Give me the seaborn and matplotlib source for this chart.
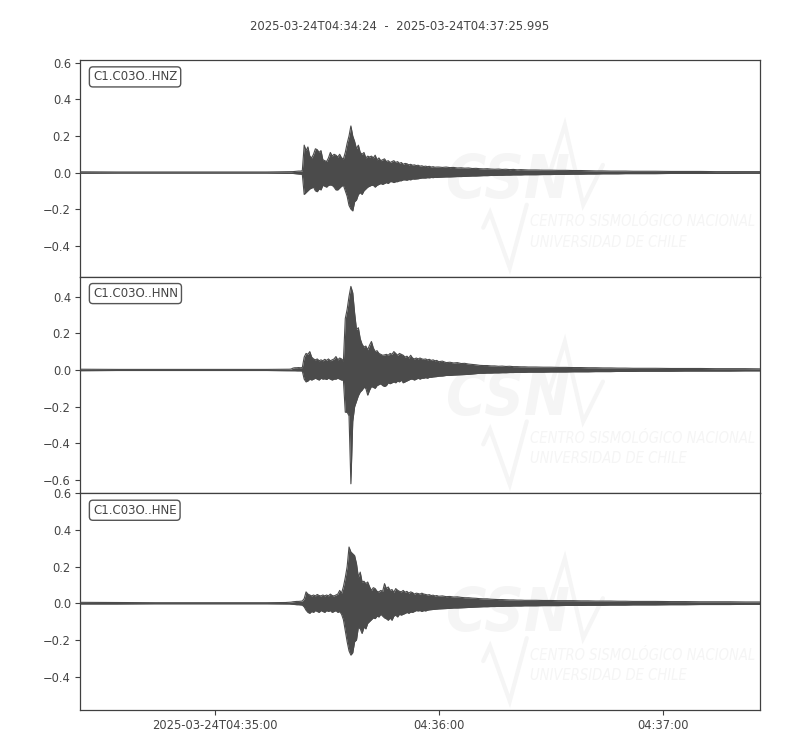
import numpy as np
import pandas as pd
import matplotlib
matplotlib.use("Agg")
import matplotlib.pyplot as plt
import seaborn as sns

# ---------------- data ----------------
title_text = "2025-03-24T04:34:24  -  2025-03-24T04:37:25.995"
channels = ["C1.C03O..HNZ", "C1.C03O..HNN", "C1.C03O..HNE"]
duration_s = 181.995

# sampling grid of the read-off envelope (seconds after 04:34:24)
grid_pre = [0, 10, 20, 30, 40, 50, 55]
grid_fine = list(np.arange(56.0, 96.0, 0.5))
grid_mid = list(np.arange(96, 121, 1))
grid_late = list(np.arange(122, 151, 2))
grid_end = list(np.arange(154, 183, 4))
seconds = np.array(grid_pre + grid_fine + grid_mid + grid_late + grid_end, dtype=float)

hnz_upper = [0.004, 0.003, 0.003, 0.003, 0.003, 0.003, 0.004,
             0.004, 0.004, 0.005, 0.006, 0.007, 0.008, 0.008, 0.010,
             0.15, 0.12, 0.14, 0.09, 0.08, 0.10, 0.13, 0.125, 0.11, 0.12,
             0.07, 0.065, 0.06, 0.08, 0.11, 0.09, 0.10, 0.095, 0.085, 0.10,
             0.08, 0.075, 0.11, 0.16, 0.20, 0.255, 0.20, 0.17, 0.13, 0.15,
             0.11, 0.10, 0.11, 0.08, 0.09, 0.085, 0.09, 0.08, 0.095, 0.07,
             0.08, 0.065, 0.07, 0.075, 0.06, 0.065, 0.055, 0.06, 0.065, 0.055,
             0.06, 0.05, 0.055, 0.045, 0.05, 0.048, 0.042, 0.045, 0.04, 0.042,
             0.038, 0.04, 0.035, 0.037, 0.033, 0.035, 0.032, 0.034, 0.03, 0.032,
             0.029, 0.03,
             0.03, 0.028, 0.03, 0.027, 0.028, 0.025, 0.026, 0.024, 0.025, 0.022,
             0.023, 0.021, 0.02, 0.021, 0.019, 0.018, 0.019, 0.017, 0.018, 0.016,
             0.017, 0.015, 0.016, 0.015, 0.014,
             0.014, 0.013, 0.013, 0.012, 0.012, 0.011, 0.011, 0.010, 0.009, 0.009,
             0.008, 0.008, 0.008, 0.007, 0.007,
             0.007, 0.006, 0.006, 0.006, 0.005, 0.005, 0.005, 0.005]
hnz_lower = [-0.004, -0.003, -0.003, -0.003, -0.003, -0.003, -0.004,
             -0.004, -0.004, -0.005, -0.006, -0.007, -0.008, -0.009, -0.010,
             -0.12, -0.11, -0.10, -0.09, -0.085, -0.08, -0.10, -0.105, -0.09, -0.095,
             -0.07, -0.075, -0.08, -0.07, -0.068, -0.07, -0.08, -0.095, -0.095, -0.085,
             -0.075, -0.07, -0.10, -0.13, -0.18, -0.20, -0.21, -0.16, -0.15, -0.12,
             -0.11, -0.12, -0.10, -0.09, -0.08, -0.075, -0.07, -0.07, -0.08, -0.07,
             -0.065, -0.06, -0.065, -0.06, -0.055, -0.06, -0.05, -0.05, -0.055, -0.05,
             -0.05, -0.045, -0.045, -0.04, -0.04, -0.042, -0.038, -0.04, -0.035, -0.036,
             -0.035, -0.034, -0.032, -0.03, -0.03, -0.03, -0.028, -0.029, -0.027, -0.028,
             -0.026, -0.027,
             -0.026, -0.025, -0.024, -0.024, -0.023, -0.022, -0.022, -0.021, -0.02, -0.019,
             -0.019, -0.018, -0.017, -0.017, -0.016, -0.016, -0.015, -0.015, -0.014, -0.014,
             -0.013, -0.013, -0.013, -0.012, -0.012,
             -0.012, -0.011, -0.011, -0.010, -0.010, -0.009, -0.009, -0.008, -0.008, -0.007,
             -0.007, -0.007, -0.006, -0.006, -0.006,
             -0.006, -0.005, -0.005, -0.005, -0.005, -0.005, -0.004, -0.004]

hnn_upper = [0.004, 0.003, 0.003, 0.003, 0.003, 0.003, 0.004,
             0.004, 0.005, 0.010, 0.012, 0.012, 0.013, 0.012, 0.013,
             0.07, 0.09, 0.085, 0.10, 0.07, 0.06, 0.055, 0.06, 0.05, 0.055,
             0.05, 0.058, 0.052, 0.06, 0.05, 0.055, 0.06, 0.073, 0.055, 0.065,
             0.06, 0.05, 0.28, 0.33, 0.40, 0.455, 0.42, 0.31, 0.22, 0.23,
             0.17, 0.14, 0.125, 0.13, 0.11, 0.135, 0.155, 0.12, 0.10, 0.105,
             0.09, 0.085, 0.08, 0.082, 0.085, 0.08, 0.09, 0.085, 0.10, 0.09,
             0.08, 0.09, 0.085, 0.08, 0.07, 0.075, 0.065, 0.08, 0.065, 0.06,
             0.065, 0.06, 0.065, 0.06, 0.058, 0.06, 0.055, 0.058, 0.052, 0.055,
             0.05, 0.052,
             0.045, 0.048, 0.04, 0.042, 0.038, 0.04, 0.035, 0.036, 0.032, 0.03,
             0.028, 0.025, 0.024, 0.024, 0.022, 0.022, 0.02, 0.021, 0.019, 0.02,
             0.018, 0.018, 0.017, 0.017, 0.016,
             0.016, 0.015, 0.015, 0.014, 0.014, 0.013, 0.013, 0.012, 0.012, 0.011,
             0.011, 0.010, 0.010, 0.009, 0.009,
             0.009, 0.008, 0.008, 0.008, 0.007, 0.007, 0.007, 0.006]
hnn_lower = [-0.004, -0.003, -0.003, -0.003, -0.003, -0.003, -0.004,
             -0.004, -0.004, -0.004, -0.004, -0.005, -0.005, -0.005, -0.006,
             -0.05, -0.065, -0.06, -0.05, -0.055, -0.05, -0.045, -0.05, -0.055, -0.045,
             -0.05, -0.048, -0.052, -0.045, -0.05, -0.055, -0.05, -0.05, -0.045, -0.05,
             -0.055, -0.055, -0.23, -0.23, -0.25, -0.62, -0.28, -0.20, -0.17, -0.14,
             -0.12, -0.11, -0.095, -0.10, -0.137, -0.11, -0.09, -0.095, -0.10, -0.085,
             -0.08, -0.075, -0.085, -0.09, -0.085, -0.07, -0.075, -0.07, -0.065, -0.07,
             -0.06, -0.065, -0.055, -0.07, -0.065, -0.06, -0.055, -0.05, -0.05, -0.055,
             -0.05, -0.045, -0.05, -0.045, -0.045, -0.042, -0.045, -0.04, -0.04, -0.038,
             -0.037, -0.036,
             -0.034, -0.033, -0.03, -0.03, -0.028, -0.027, -0.026, -0.025, -0.024, -0.022,
             -0.02, -0.018, -0.018, -0.017, -0.017, -0.016, -0.016, -0.015, -0.015, -0.014,
             -0.014, -0.013, -0.013, -0.013, -0.012,
             -0.012, -0.012, -0.011, -0.011, -0.011, -0.010, -0.010, -0.010, -0.009, -0.009,
             -0.009, -0.008, -0.008, -0.008, -0.007,
             -0.007, -0.007, -0.006, -0.006, -0.006, -0.006, -0.005, -0.005]

hne_upper = [0.005, 0.004, 0.003, 0.003, 0.003, 0.003, 0.004,
             0.005, 0.006, 0.008, 0.009, 0.010, 0.010, 0.011, 0.012,
             0.025, 0.062, 0.05, 0.045, 0.04, 0.045, 0.04, 0.048, 0.042, 0.04,
             0.045, 0.04, 0.045, 0.04, 0.05, 0.042, 0.04, 0.045, 0.05, 0.07,
             0.055, 0.09, 0.14, 0.20, 0.307, 0.28, 0.27, 0.26, 0.216, 0.143,
             0.17, 0.116, 0.12, 0.107, 0.116, 0.09, 0.07, 0.085, 0.08, 0.065,
             0.062, 0.07, 0.065, 0.107, 0.08, 0.089, 0.07, 0.075, 0.06, 0.08,
             0.071, 0.065, 0.062, 0.07, 0.06, 0.065, 0.055, 0.062, 0.058, 0.05,
             0.055, 0.053, 0.05, 0.055, 0.05, 0.048, 0.045, 0.047, 0.042, 0.044,
             0.04, 0.042,
             0.038, 0.04, 0.036, 0.037, 0.034, 0.035, 0.032, 0.03, 0.03, 0.028,
             0.027, 0.025, 0.024, 0.024, 0.022, 0.021, 0.02, 0.02, 0.019, 0.018,
             0.018, 0.017, 0.017, 0.016, 0.016,
             0.016, 0.015, 0.015, 0.014, 0.014, 0.014, 0.013, 0.013, 0.012, 0.012,
             0.012, 0.011, 0.011, 0.010, 0.010,
             0.010, 0.009, 0.009, 0.008, 0.008, 0.008, 0.007, 0.007]
hne_lower = [-0.004, -0.004, -0.003, -0.003, -0.003, -0.003, -0.004,
             -0.004, -0.005, -0.006, -0.007, -0.008, -0.008, -0.009, -0.010,
             -0.02, -0.038, -0.05, -0.055, -0.045, -0.05, -0.04, -0.045, -0.05, -0.04,
             -0.045, -0.05, -0.04, -0.045, -0.04, -0.05, -0.045, -0.04, -0.05, -0.045,
             -0.06, -0.09, -0.15, -0.21, -0.26, -0.283, -0.27, -0.21, -0.20, -0.13,
             -0.14, -0.165, -0.13, -0.14, -0.11, -0.10, -0.09, -0.08, -0.084, -0.07,
             -0.075, -0.06, -0.07, -0.08, -0.085, -0.093, -0.08, -0.093, -0.07, -0.065,
             -0.075, -0.06, -0.065, -0.06, -0.056, -0.05, -0.055, -0.048, -0.05, -0.045,
             -0.04, -0.042, -0.04, -0.045, -0.04, -0.042, -0.038, -0.036, -0.035, -0.034,
             -0.033, -0.032,
             -0.031, -0.03, -0.029, -0.028, -0.026, -0.026, -0.025, -0.024, -0.023, -0.022,
             -0.021, -0.02, -0.019, -0.019, -0.018, -0.018, -0.017, -0.017, -0.016, -0.016,
             -0.015, -0.015, -0.015, -0.014, -0.014,
             -0.014, -0.013, -0.013, -0.013, -0.012, -0.012, -0.012, -0.011, -0.011, -0.011,
             -0.010, -0.010, -0.010, -0.009, -0.009,
             -0.009, -0.008, -0.008, -0.007, -0.007, -0.007, -0.006, -0.006]

upper_series = [hnz_upper, hnn_upper, hne_upper]
lower_series = [hnz_lower, hnn_lower, hne_lower]

y_limits = [(-0.57, 0.616), (-0.672, 0.508), (-0.583, 0.60)]
y_ticks = [[-0.4, -0.2, 0.0, 0.2, 0.4, 0.6],
           [-0.6, -0.4, -0.2, 0.0, 0.2, 0.4],
           [-0.4, -0.2, 0.0, 0.2, 0.4, 0.6]]
x_tick_seconds = [36, 96, 156]
x_tick_labels = ["2025-03-24T04:35:00", "04:36:00", "04:37:00"]

# watermark logo strokes (axes-fraction decoration, not data)
logo_w_low = ([0.593, 0.603, 0.632, 0.657], [0.226, 0.295, 0.041, 0.332])
logo_w_high = ([0.690, 0.713, 0.740, 0.769], [0.470, 0.700, 0.332, 0.516])

# ---------------- style ----------------
sns.set_style("ticks")
plt.rcParams["font.family"] = ["DejaVu Sans"]
text_color = "#444444"
wave_color = "#4b4b4b"
plt.rcParams.update({
    "axes.edgecolor": "#404040",
    "axes.linewidth": 0.9,
    "xtick.color": "#404040",
    "ytick.color": "#404040",
    "xtick.labelcolor": text_color,
    "ytick.labelcolor": text_color,
    "xtick.labelsize": 8.3,
    "ytick.labelsize": 8.3,
})

fig, axes = plt.subplots(3, 1, figsize=(8, 7.5), dpi=100, sharex=True)
fig.subplots_adjust(left=0.1, right=0.95, top=0.92, bottom=0.0533, hspace=0)

for i, ax in enumerate(axes):
    up = np.array(upper_series[i])
    lo = np.array(lower_series[i])
    df = pd.DataFrame({"t": seconds, "upper": up, "lower": lo})

    # faint watermark
    wm = "#f5f5f5"
    ax.text(0.63, 0.44, "CSN", transform=ax.transAxes, fontsize=44,
            fontweight="bold", fontstyle="italic", fontstretch="condensed",
            color=wm, ha="center", va="center", zorder=0)
    ax.text(0.662, 0.253, "CENTRO SISMOLÓGICO NACIONAL", transform=ax.transAxes,
            fontsize=10.5, fontstyle="italic", fontstretch="condensed",
            color=wm, ha="left", va="center", zorder=0)
    ax.text(0.662, 0.16, "UNIVERSIDAD DE CHILE", transform=ax.transAxes,
            fontsize=10.5, fontstyle="italic", fontstretch="condensed",
            color=wm, ha="left", va="center", zorder=0)
    for xs, ys in (logo_w_low, logo_w_high):
        ax.plot(xs, ys, transform=ax.transAxes, color=wm, linewidth=3,
                solid_joinstyle="miter", zorder=0)

    ax.fill_between(df["t"], df["lower"], df["upper"], color=wave_color,
                    linewidth=0, zorder=2)
    sns.lineplot(data=df, x="t", y="upper", ax=ax, color=wave_color,
                 linewidth=0.8, zorder=3, estimator=None, sort=False)
    sns.lineplot(data=df, x="t", y="lower", ax=ax, color=wave_color,
                 linewidth=0.8, zorder=3, estimator=None, sort=False)

    ax.set_xlim(0, duration_s)
    ax.set_ylim(*y_limits[i])
    ax.set_yticks(y_ticks[i])
    ax.set_ylabel("")
    ax.set_xlabel("")
    for s in ax.spines.values():
        s.set_visible(True)
    ax.tick_params(axis="y", length=3.5, width=0.8, pad=3)
    if i < 2:
        ax.tick_params(axis="x", bottom=False, labelbottom=False)

    ax.text(0.019, 0.952, channels[i], transform=ax.transAxes, fontsize=8.5,
            color=text_color, ha="left", va="top", zorder=5,
            bbox=dict(boxstyle="round,pad=0.3", facecolor="white",
                      edgecolor="#555555", linewidth=1.0))

axes[-1].set_xticks(x_tick_seconds)
axes[-1].set_xticklabels(x_tick_labels)
axes[-1].tick_params(axis="x", length=3.5, width=0.8, pad=3)

fig.suptitle(title_text, y=0.973, fontsize=8.4, color=text_color)

fig.savefig("out.png", dpi=100)
